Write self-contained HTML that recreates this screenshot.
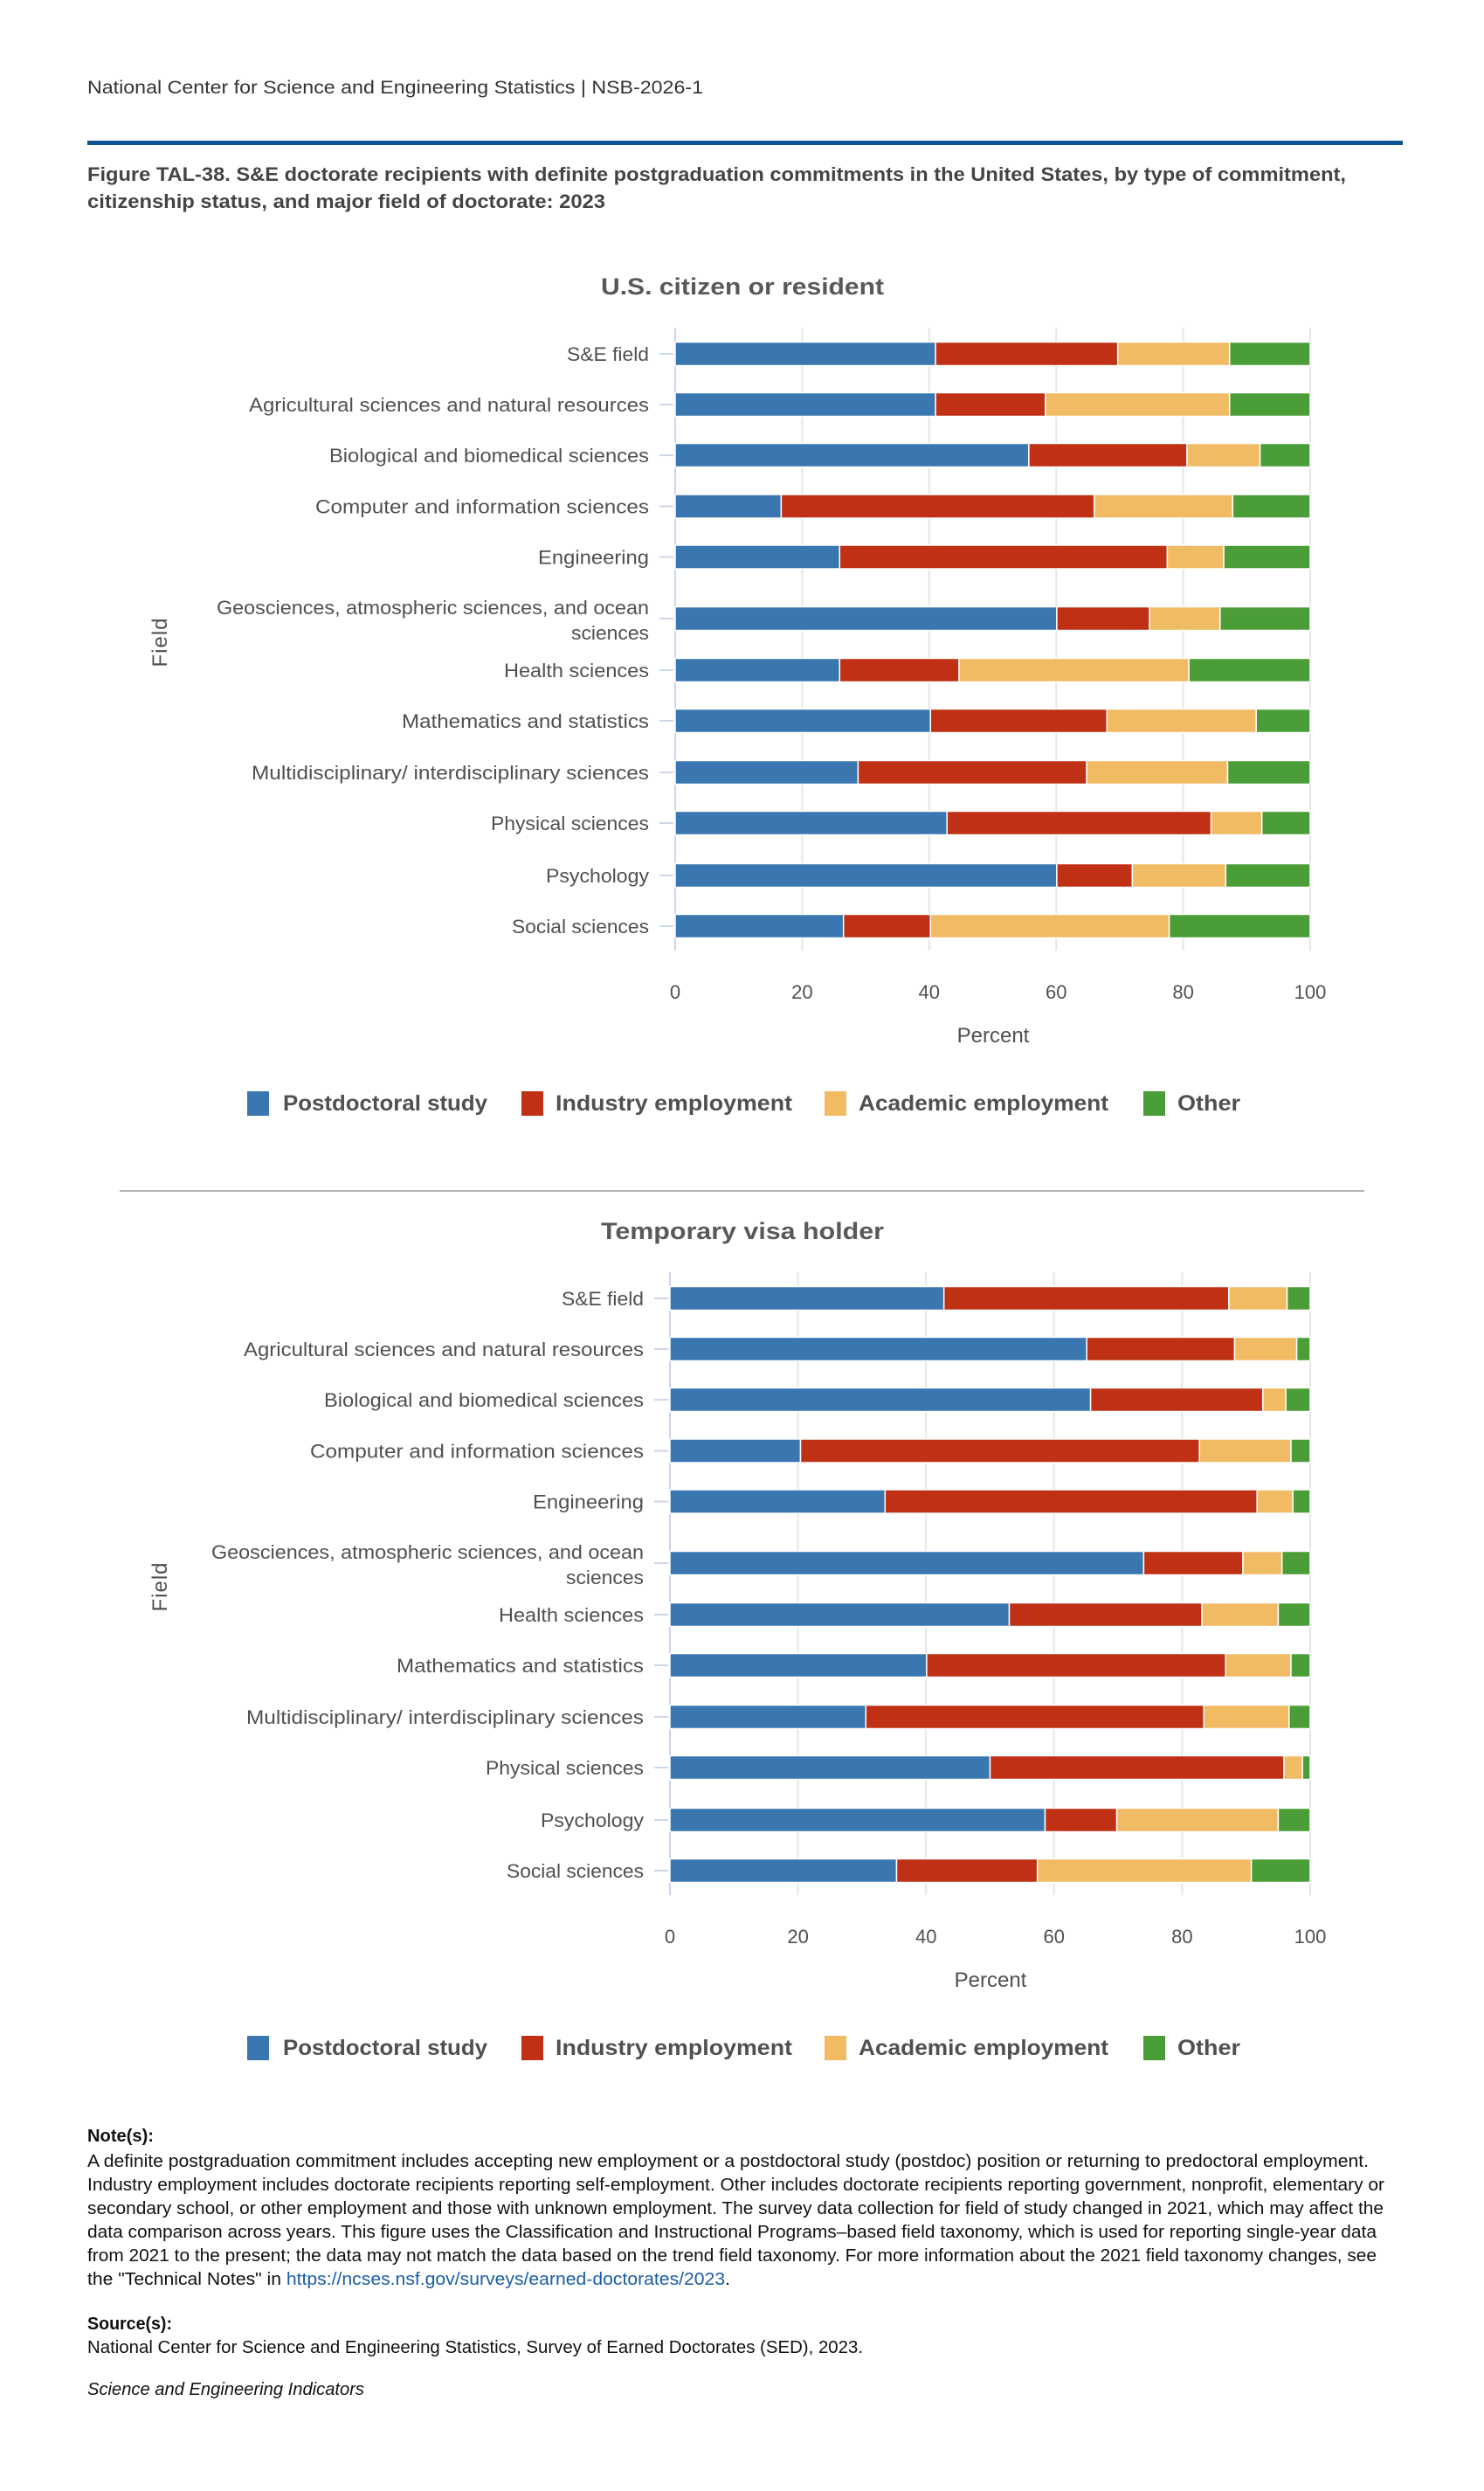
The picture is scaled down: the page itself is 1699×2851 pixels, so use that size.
<!DOCTYPE html>
<html><head><meta charset="utf-8"><style>
html,body{margin:0;padding:0;background:#fff;}
svg{display:block;}
text{font-family:"Liberation Sans",Arial,sans-serif;}
.lab{font-size:22px;fill:#505050;text-anchor:end;}
.tk{font-size:22px;fill:#505050;text-anchor:middle;}
.lg{font-size:25px;fill:#505050;font-weight:bold;}
.bars rect{stroke:#fff;stroke-width:1.5;}
.b{fill:#3a76b0}.r{fill:#bf3014}.y{fill:#f0bb63}.g{fill:#4b9d38}
.n{font-size:20px;fill:#111;}
</style></head><body>
<svg width="1699" height="2851" viewBox="0 0 1699 2851" xmlns="http://www.w3.org/2000/svg">
<defs>
<g id="labs" class="lab">
<text x="0" y="413" textLength="94" lengthAdjust="spacingAndGlyphs">S&amp;E field</text>
<text x="0" y="471" textLength="458" lengthAdjust="spacingAndGlyphs">Agricultural sciences and natural resources</text>
<text x="0" y="529" textLength="366" lengthAdjust="spacingAndGlyphs">Biological and biomedical sciences</text>
<text x="0" y="587.5" textLength="382" lengthAdjust="spacingAndGlyphs">Computer and information sciences</text>
<text x="0" y="645.5" textLength="127" lengthAdjust="spacingAndGlyphs">Engineering</text>
<text x="0" y="703" textLength="495" lengthAdjust="spacingAndGlyphs">Geosciences, atmospheric sciences, and ocean</text>
<text x="0" y="732" textLength="89" lengthAdjust="spacingAndGlyphs">sciences</text>
<text x="0" y="775" textLength="166" lengthAdjust="spacingAndGlyphs">Health sciences</text>
<text x="0" y="833" textLength="283" lengthAdjust="spacingAndGlyphs">Mathematics and statistics</text>
<text x="0" y="892" textLength="455" lengthAdjust="spacingAndGlyphs">Multidisciplinary/ interdisciplinary sciences</text>
<text x="0" y="950" textLength="181" lengthAdjust="spacingAndGlyphs">Physical sciences</text>
<text x="0" y="1010" textLength="118" lengthAdjust="spacingAndGlyphs">Psychology</text>
<text x="0" y="1068" textLength="157" lengthAdjust="spacingAndGlyphs">Social sciences</text>
</g>
<g id="leg">
<rect class="b" x="283" y="1249" width="25" height="28"/>
<text class="lg" x="324" y="1271" textLength="234" lengthAdjust="spacingAndGlyphs">Postdoctoral study</text>
<rect class="r" x="597" y="1249" width="25" height="28"/>
<text class="lg" x="636" y="1271" textLength="271" lengthAdjust="spacingAndGlyphs">Industry employment</text>
<rect class="y" x="944" y="1249" width="25" height="28"/>
<text class="lg" x="983" y="1271" textLength="286" lengthAdjust="spacingAndGlyphs">Academic employment</text>
<rect class="g" x="1309" y="1249" width="25" height="28"/>
<text class="lg" x="1348" y="1271" textLength="72" lengthAdjust="spacingAndGlyphs">Other</text>
</g>
</defs>
<rect width="1699" height="2851" fill="#fff"/>
<text x="100" y="107" font-size="21" fill="#333" textLength="705" lengthAdjust="spacingAndGlyphs">National Center for Science and Engineering Statistics  |  NSB-2026-1</text>
<rect x="100" y="161" width="1506" height="5" fill="#0b5394"/>
<text x="100" y="207" font-size="22" font-weight="bold" fill="#444" textLength="1441" lengthAdjust="spacingAndGlyphs">Figure TAL-38. S&amp;E doctorate recipients with definite postgraduation commitments in the United States, by type of commitment,</text>
<text x="100" y="238" font-size="22" font-weight="bold" fill="#444" textLength="593" lengthAdjust="spacingAndGlyphs">citizenship status, and major field of doctorate: 2023</text>

<!-- CHART 1 -->
<g id="c1">
<text x="850" y="337" font-size="27" font-weight="bold" fill="#595959" text-anchor="middle" textLength="324" lengthAdjust="spacingAndGlyphs">U.S. citizen or resident</text>
<g stroke="#e6e6e6" stroke-width="2">
<line x1="918.4" y1="375" x2="918.4" y2="1088"/><line x1="1063.8" y1="375" x2="1063.8" y2="1088"/><line x1="1209.2" y1="375" x2="1209.2" y2="1088"/><line x1="1354.6" y1="375" x2="1354.6" y2="1088"/><line x1="1500" y1="375" x2="1500" y2="1088"/>
</g>
<line x1="773" y1="375" x2="773" y2="1088" stroke="#ccd6eb" stroke-width="2"/>
<g stroke="#ccd6eb" stroke-width="2">
<line x1="755" x2="771" y1="405" y2="405"/><line x1="755" x2="771" y1="463" y2="463"/><line x1="755" x2="771" y1="521" y2="521"/><line x1="755" x2="771" y1="579.5" y2="579.5"/><line x1="755" x2="771" y1="637.5" y2="637.5"/><line x1="755" x2="771" y1="708" y2="708"/><line x1="755" x2="771" y1="767" y2="767"/><line x1="755" x2="771" y1="825" y2="825"/><line x1="755" x2="771" y1="884" y2="884"/><line x1="755" x2="771" y1="942" y2="942"/><line x1="755" x2="771" y1="1002" y2="1002"/><line x1="755" x2="771" y1="1060" y2="1060"/>
</g>
<use href="#labs" x="743"/>
<g class="bars">
<rect class="b" x="773" y="391.5" width="298.1" height="27"/><rect class="r" x="1071.1" y="391.5" width="208.6" height="27"/><rect class="y" x="1279.7" y="391.5" width="128" height="27"/><rect class="g" x="1407.7" y="391.5" width="92.3" height="27"/>
<rect class="b" x="773" y="449.5" width="298.1" height="27"/><rect class="r" x="1071.1" y="449.5" width="125.7" height="27"/><rect class="y" x="1196.8" y="449.5" width="210.9" height="27"/><rect class="g" x="1407.7" y="449.5" width="92.3" height="27"/>
<rect class="b" x="773" y="507.5" width="404.9" height="27"/><rect class="r" x="1177.9" y="507.5" width="181.1" height="27"/><rect class="y" x="1359" y="507.5" width="83.6" height="27"/><rect class="g" x="1442.6" y="507.5" width="57.4" height="27"/>
<rect class="b" x="773" y="566" width="121.4" height="27"/><rect class="r" x="894.4" y="566" width="358.4" height="27"/><rect class="y" x="1252.8" y="566" width="158.5" height="27"/><rect class="g" x="1411.3" y="566" width="88.7" height="27"/>
<rect class="b" x="773" y="624" width="188.3" height="27"/><rect class="r" x="961.3" y="624" width="375.1" height="27"/><rect class="y" x="1336.4" y="624" width="64.7" height="27"/><rect class="g" x="1401.1" y="624" width="98.9" height="27"/>
<rect class="b" x="773" y="694.5" width="436.9" height="27"/><rect class="r" x="1209.9" y="694.5" width="106.2" height="27"/><rect class="y" x="1316.1" y="694.5" width="80.7" height="27"/><rect class="g" x="1396.8" y="694.5" width="103.2" height="27"/>
<rect class="b" x="773" y="753.5" width="188.3" height="27"/><rect class="r" x="961.3" y="753.5" width="136.7" height="27"/><rect class="y" x="1098" y="753.5" width="263.1" height="27"/><rect class="g" x="1361.1" y="753.5" width="138.9" height="27"/>
<rect class="b" x="773" y="811.5" width="292.3" height="27"/><rect class="r" x="1065.3" y="811.5" width="202.1" height="27"/><rect class="y" x="1267.4" y="811.5" width="170.8" height="27"/><rect class="g" x="1438.2" y="811.5" width="61.8" height="27"/>
<rect class="b" x="773" y="870.5" width="209.4" height="27"/><rect class="r" x="982.4" y="870.5" width="261.7" height="27"/><rect class="y" x="1244.1" y="870.5" width="161.4" height="27"/><rect class="g" x="1405.5" y="870.5" width="94.5" height="27"/>
<rect class="b" x="773" y="928.5" width="311.2" height="27"/><rect class="r" x="1084.2" y="928.5" width="302.4" height="27"/><rect class="y" x="1386.6" y="928.5" width="58.1" height="27"/><rect class="g" x="1444.7" y="928.5" width="55.3" height="27"/>
<rect class="b" x="773" y="988.5" width="436.9" height="27"/><rect class="r" x="1209.9" y="988.5" width="86.5" height="27"/><rect class="y" x="1296.4" y="988.5" width="106.9" height="27"/><rect class="g" x="1403.3" y="988.5" width="96.7" height="27"/>
<rect class="b" x="773" y="1046.5" width="192.7" height="27"/><rect class="r" x="965.7" y="1046.5" width="99.6" height="27"/><rect class="y" x="1065.3" y="1046.5" width="273.3" height="27"/><rect class="g" x="1338.6" y="1046.5" width="161.4" height="27"/>
</g>
<g class="tk">
<text x="773" y="1143">0</text><text x="918.4" y="1143">20</text><text x="1063.8" y="1143">40</text><text x="1209.2" y="1143">60</text><text x="1354.6" y="1143">80</text><text x="1500" y="1143">100</text>
</g>
<text x="1137" y="1193" font-size="24" fill="#505050" text-anchor="middle">Percent</text>
<text transform="translate(191,735) rotate(-90)" font-size="24" fill="#505050" text-anchor="middle" letter-spacing="1">Field</text>
<use href="#leg"/>
</g>

<rect x="137" y="1362" width="1425" height="2" fill="#b3b3b3"/>

<!-- CHART 2 -->
<g transform="translate(0,1081)">
<text x="850" y="337" font-size="27" font-weight="bold" fill="#595959" text-anchor="middle" textLength="324" lengthAdjust="spacingAndGlyphs">Temporary visa holder</text>
<g stroke="#e6e6e6" stroke-width="2">
<line x1="913.6" y1="375" x2="913.6" y2="1088"/><line x1="1060.2" y1="375" x2="1060.2" y2="1088"/><line x1="1206.8" y1="375" x2="1206.8" y2="1088"/><line x1="1353.4" y1="375" x2="1353.4" y2="1088"/><line x1="1500" y1="375" x2="1500" y2="1088"/>
</g>
<line x1="767" y1="375" x2="767" y2="1088" stroke="#ccd6eb" stroke-width="2"/>
<g stroke="#ccd6eb" stroke-width="2">
<line x1="749" x2="765" y1="405" y2="405"/><line x1="749" x2="765" y1="463" y2="463"/><line x1="749" x2="765" y1="521" y2="521"/><line x1="749" x2="765" y1="579.5" y2="579.5"/><line x1="749" x2="765" y1="637.5" y2="637.5"/><line x1="749" x2="765" y1="708" y2="708"/><line x1="749" x2="765" y1="767" y2="767"/><line x1="749" x2="765" y1="825" y2="825"/><line x1="749" x2="765" y1="884" y2="884"/><line x1="749" x2="765" y1="942" y2="942"/><line x1="749" x2="765" y1="1002" y2="1002"/><line x1="749" x2="765" y1="1060" y2="1060"/>
</g>
<use href="#labs" x="737"/>
<g class="bars">
<rect class="b" x="767" y="391.5" width="313.7" height="27"/><rect class="r" x="1080.7" y="391.5" width="326.2" height="27"/><rect class="y" x="1406.9" y="391.5" width="66.7" height="27"/><rect class="g" x="1473.6" y="391.5" width="26.4" height="27"/>
<rect class="b" x="767" y="449.5" width="477.2" height="27"/><rect class="r" x="1244.2" y="449.5" width="169.3" height="27"/><rect class="y" x="1413.5" y="449.5" width="71.1" height="27"/><rect class="g" x="1484.6" y="449.5" width="15.4" height="27"/>
<rect class="b" x="767" y="507.5" width="481.6" height="27"/><rect class="r" x="1248.6" y="507.5" width="197.2" height="27"/><rect class="y" x="1445.8" y="507.5" width="26.3" height="27"/><rect class="g" x="1472.1" y="507.5" width="27.9" height="27"/>
<rect class="b" x="767" y="566" width="149.5" height="27"/><rect class="r" x="916.5" y="566" width="456.7" height="27"/><rect class="y" x="1373.2" y="566" width="104.8" height="27"/><rect class="g" x="1478" y="566" width="22" height="27"/>
<rect class="b" x="767" y="624" width="246.3" height="27"/><rect class="r" x="1013.3" y="624" width="425.9" height="27"/><rect class="y" x="1439.2" y="624" width="41" height="27"/><rect class="g" x="1480.2" y="624" width="19.8" height="27"/>
<rect class="b" x="767" y="694.5" width="542.4" height="27"/><rect class="r" x="1309.4" y="694.5" width="113.6" height="27"/><rect class="y" x="1423" y="694.5" width="44.7" height="27"/><rect class="g" x="1467.7" y="694.5" width="32.3" height="27"/>
<rect class="b" x="767" y="753.5" width="388.5" height="27"/><rect class="r" x="1155.5" y="753.5" width="220.6" height="27"/><rect class="y" x="1376.1" y="753.5" width="87.3" height="27"/><rect class="g" x="1463.4" y="753.5" width="36.6" height="27"/>
<rect class="b" x="767" y="811.5" width="293.9" height="27"/><rect class="r" x="1060.9" y="811.5" width="342.3" height="27"/><rect class="y" x="1403.2" y="811.5" width="74.8" height="27"/><rect class="g" x="1478" y="811.5" width="22" height="27"/>
<rect class="b" x="767" y="870.5" width="224.3" height="27"/><rect class="r" x="991.3" y="870.5" width="387" height="27"/><rect class="y" x="1378.3" y="870.5" width="97.5" height="27"/><rect class="g" x="1475.8" y="870.5" width="24.2" height="27"/>
<rect class="b" x="767" y="928.5" width="366.5" height="27"/><rect class="r" x="1133.5" y="928.5" width="336.5" height="27"/><rect class="y" x="1470" y="928.5" width="21.2" height="27"/><rect class="g" x="1491.2" y="928.5" width="8.8" height="27"/>
<rect class="b" x="767" y="988.5" width="429.5" height="27"/><rect class="r" x="1196.5" y="988.5" width="82.1" height="27"/><rect class="y" x="1278.6" y="988.5" width="184.8" height="27"/><rect class="g" x="1463.4" y="988.5" width="36.6" height="27"/>
<rect class="b" x="767" y="1046.5" width="259.5" height="27"/><rect class="r" x="1026.5" y="1046.5" width="161.2" height="27"/><rect class="y" x="1187.7" y="1046.5" width="244.9" height="27"/><rect class="g" x="1432.6" y="1046.5" width="67.4" height="27"/>
</g>
<g class="tk">
<text x="767" y="1143">0</text><text x="913.6" y="1143">20</text><text x="1060.2" y="1143">40</text><text x="1206.8" y="1143">60</text><text x="1353.4" y="1143">80</text><text x="1500" y="1143">100</text>
</g>
<text x="1134" y="1193" font-size="24" fill="#505050" text-anchor="middle">Percent</text>
<text transform="translate(191,735) rotate(-90)" font-size="24" fill="#505050" text-anchor="middle" letter-spacing="1">Field</text>
<use href="#leg"/>
</g>

<!-- NOTES -->
<text class="n" x="100" y="2451" font-weight="bold" textLength="76" lengthAdjust="spacingAndGlyphs">Note(s):</text>
<text class="n" x="100" y="2480" textLength="1467" lengthAdjust="spacingAndGlyphs">A definite postgraduation commitment includes accepting new employment or a postdoctoral study (postdoc) position or returning to predoctoral employment.</text>
<text class="n" x="100" y="2507" textLength="1485" lengthAdjust="spacingAndGlyphs">Industry employment includes doctorate recipients reporting self-employment. Other includes doctorate recipients reporting government, nonprofit, elementary or</text>
<text class="n" x="100" y="2534" textLength="1484" lengthAdjust="spacingAndGlyphs">secondary school, or other employment and those with unknown employment. The survey data collection for field of study changed in 2021, which may affect the</text>
<text class="n" x="100" y="2561" textLength="1476" lengthAdjust="spacingAndGlyphs">data comparison across years. This figure uses the Classification and Instructional Programs–based field taxonomy, which is used for reporting single-year data</text>
<text class="n" x="100" y="2588" textLength="1476" lengthAdjust="spacingAndGlyphs">from 2021 to the present; the data may not match the data based on the trend field taxonomy. For more information about the 2021 field taxonomy changes, see</text>
<text class="n" x="100" y="2615" textLength="736" lengthAdjust="spacingAndGlyphs">the "Technical Notes" in <tspan fill="#1a5ea6">https://ncses.nsf.gov/surveys/earned-doctorates/2023</tspan>.</text>
<text class="n" x="100" y="2666" font-weight="bold" textLength="97" lengthAdjust="spacingAndGlyphs">Source(s):</text>
<text class="n" x="100" y="2693" textLength="888" lengthAdjust="spacingAndGlyphs">National Center for Science and Engineering Statistics, Survey of Earned Doctorates (SED), 2023.</text>
<text class="n" x="100" y="2741" font-style="italic" textLength="317" lengthAdjust="spacingAndGlyphs">Science and Engineering Indicators</text>
</svg>
</body></html>
